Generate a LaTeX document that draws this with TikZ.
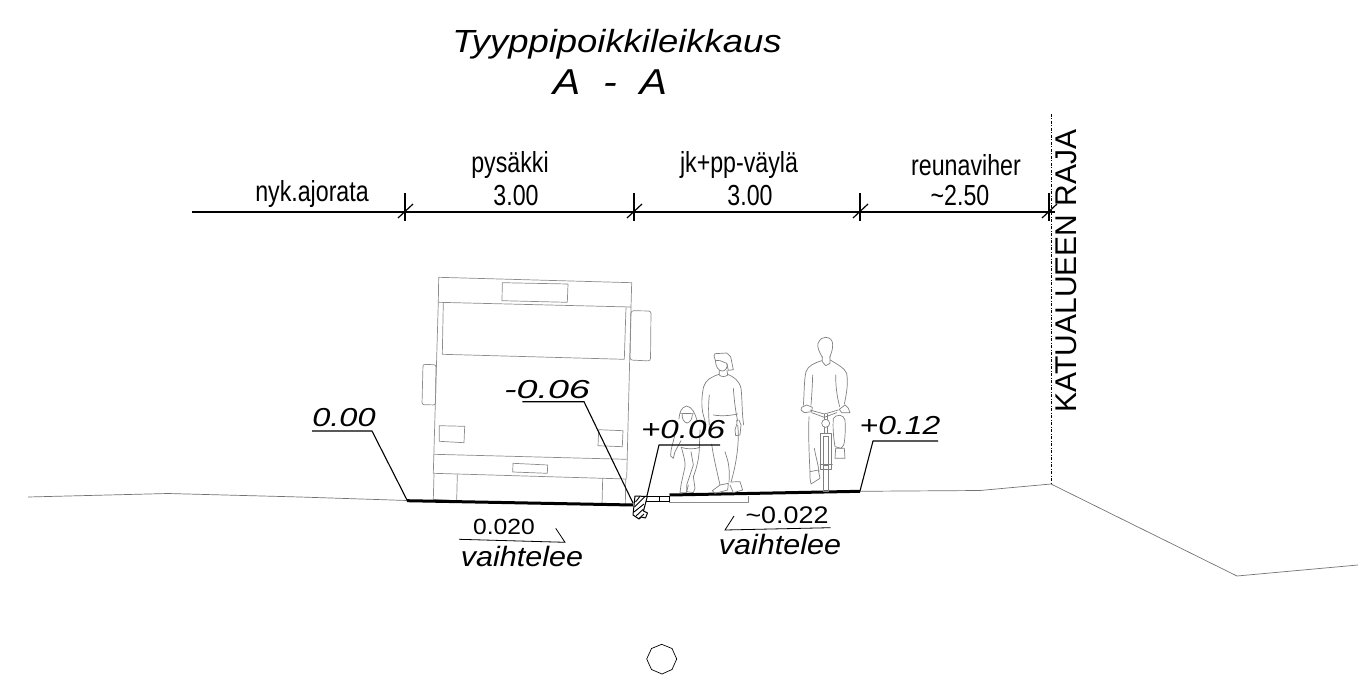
\documentclass[tikz,border=0pt]{standalone}
\usepackage{fontspec}
\setmainfont{Liberation Sans}
\tikzset{
  thin line/.style={draw=black!45,line width=.7pt,line join=round},
  fig/.style={draw=black!50,line width=.7pt,line join=round,line cap=round},
  ground/.style={draw=black!55,line width=.7pt},
  road/.style={draw=black,line width=3pt},
  leader/.style={draw=black,line width=1.1pt},
  dim/.style={draw=black,line width=1.2pt},
  lab/.style={inner sep=0pt,transform shape,font=\fontsize{29}{29}\selectfont,xscale=.8},
  lev/.style={inner sep=0pt,transform shape,font=\fontsize{26}{26}\selectfont\itshape,xscale=1.25},
  slope/.style={inner sep=0pt,transform shape,xscale=1.12},
}
\begin{document}
\begin{tikzpicture}[x=1pt,y=-1pt]
\useasboundingbox (0,0) rectangle (1358,698);
% titles
\node[lev,font=\fontsize{32}{32}\selectfont\itshape,xscale=.911] (t1) at (617,44) {Tyyppipoikkileikkaus};
\node[lev,font=\fontsize{36}{36}\selectfont\itshape,xscale=.915] (t2) at (610,82) {A\ \ -\ \ A};
% dimension line
\coordinate (d0) at (192,212); \coordinate (d1) at (405,212); \coordinate (d2) at (634,212);
\coordinate (d3) at (860,212); \coordinate (d4) at (1049,212); \coordinate (d5) at (1055,212);
\draw[dim] (d0) -- (d5);
\foreach \c in {d1,d2,d3,d4}{
  \draw[dim] ([yshift=19pt]\c) -- ([yshift=-9pt]\c);
  \draw[dim] ([shift={(-7pt,-6pt)}]\c) -- ([shift={(8pt,8pt)}]\c);
}
\node[lab] (a0) at (312,194) {nyk.ajorata};
\node[lab] (a1) at (510,165) {pysäkki};
\node[lab] (a2) at (516,196) {3.00};
\node[lab] (a3) at (739,165) {jk+pp-väylä};
\node[lab] (a4) at (750,196) {3.00};
\node[lab] (a5) at (966,165) {reunaviher};
\node[lab] (a6) at (960,196) {\textasciitilde 2.50};
% boundary
\coordinate (b0) at (1051,114); \coordinate (b1) at (1051,484);
\draw[draw=black,line width=.7pt,dash pattern=on 3pt off 1.5pt on 1pt off 1.5pt] (b0) -- (b1);
\node[inner sep=0pt,rotate=90,font=\fontsize{30}{30}\selectfont] (kr) at (1066,271) {KATUALUEEN RAJA};
% bus
\draw[thin line] (438.7,277.3) -- (631.7,282.7) -- (631,307) -- (438.3,302.3) -- cycle;
\draw[thin line] (502.3,282.7) -- (568,284) -- (567.3,302.3) -- (502,300.7) -- cycle;
\draw[thin line] (443.3,302.7) -- (442.3,354.3) -- (624.3,359.3) -- (626,307);
\draw[thin line] (438.3,302.3) -- (433.3,473.3);
\draw[thin line] (631,307) -- (626.7,478.3);
\draw[thin line] (434,454.3) -- (626.7,459.3);
\draw[thin line] (433.3,473.3) -- (626.7,479);
\draw[thin line] (513,463.3) -- (547.7,465) -- (547.3,473.3) -- (512.7,472) -- cycle;
\draw[thin line] (439.3,425.7) -- (464.7,426.3) -- (464,442.7) -- (439.3,441.3) -- cycle;
\draw[thin line] (598.7,429.7) -- (623,430.7) -- (622.3,446.7) -- (598,445.7) -- cycle;
\draw[thin line] (434,474) -- (433.3,499.3) -- (456.7,500.7) -- (457.3,474.7);
\draw[thin line] (602.7,478.3) -- (602,505) -- (625.3,505.7) -- (625.7,479);
\draw[thin line,rounded corners=2pt] (423,364.3) -- (436,364.8) -- (435.5,405) -- (422,404.6) -- cycle;
\draw[thin line,rounded corners=2.5pt] (631,310.7) -- (651,311) -- (650.5,361) -- (630,360) -- cycle;
% ground
\draw[ground] (28,497) -- (168,493.5) -- (300,497) -- (407,500.5);
\draw[ground] (860,491.3) -- (980,490.5) -- (1051,484) -- (1237,576) -- (1358,565);
\draw[road] (407,500.7) -- (633,505);
\draw[road] (669.5,495) -- (860,491.3);
\draw[thin line] (669.3,502.3) -- (748.3,502.3) -- (748.3,495.5);
% curb
\draw[draw=black,line width=1pt,line join=round] (635,496) -- (647.3,496.5) -- (643.5,511) -- (647.5,513) -- (645.5,518) -- (641.5,517) -- (639,519) -- (633,515) -- cycle;
\foreach \a/\b/\c/\d in {635.5/502/640/496.3,634.5/507/645/496.5,634/512/644/504,636/516/643.5/509,639/518.5/644/514}
  \draw[black,line width=.9pt] (\a,\b) -- (\c,\d);
\draw[draw=black,line width=.9pt] (647.3,496) -- (669.3,496) -- (669.3,501.7) -- (645.8,501.7);
\draw[draw=black,line width=.9pt] (659.3,496) -- (659.3,501.7);
% adult upper
\begin{scope}[shift={(665,345)},x=.3333pt,y=-.3333pt]
\draw[fig] (147,33) -- (150,26) -- (185,24) -- (197,35) -- (205,74) -- (190,76) -- (185,55) -- (165,47) -- (151,46) -- cycle;
\draw[fig] (151,46) .. controls (152,65) and (160,78) .. (172,78) .. controls (182,78) and (187,68) .. (187,58);
\draw[fig] (163,76) -- (163,90) .. controls (168,96) and (182,96) .. (188,90) -- (186,76);
\draw[fig] (162,88) .. controls (140,95) and (122,105) .. (116,125) .. controls (110,150) and (108,185) .. (115,210) -- (123,240);
\draw[fig] (188,88) .. controls (205,95) and (222,105) .. (228,130) .. controls (232,160) and (230,200) .. (236,240);
\draw[fig] (133,150) .. controls (130,175) and (130,205) .. (133,240);
\draw[fig] (205,130) .. controls (208,165) and (210,190) .. (218,228);
\draw[fig] (145,210) .. controls (170,214) and (195,212) .. (218,207);
% child head
\draw[fig] (42,222) .. controls (44,200) and (48,188) .. (65,183) .. controls (82,186) and (90,205) .. (96,226);
\draw[fig] (46,205) -- (85,206);
\draw[fig] (52,206) .. controls (50,220) and (56,232) .. (66,234) .. controls (76,232) and (82,222) .. (82,207);
\end{scope}
% adult and child lower
\begin{scope}[shift={(665,420)},x=.3333pt,y=-.3333pt]
\draw[fig] (222,0) -- (228,15) -- (225,45) -- (212,47) -- (210,30) -- (216,10) -- (215,0);
\draw[fig] (140,72) .. controls (145,110) and (155,150) .. (165,195);
\draw[fig] (218,15) .. controls (224,60) and (215,130) .. (198,186);
\draw[fig] (180,95) .. controls (185,115) and (196,130) .. (192,187);
\draw[fig] (165,195) -- (190,190) -- (188,210) -- (150,220) -- (142,212) -- cycle;
\draw[fig] (198,186) -- (225,185) -- (233,210) -- (205,218) -- (195,195);
\draw[fig] (35,10) .. controls (32,45) and (22,70) .. (18,92) -- (17,108) -- (25,115) -- (30,95) -- (48,62);
\draw[fig] (48,82) .. controls (65,88) and (90,88) .. (105,82);
\draw[fig] (105,30) -- (103,85) .. controls (102,115) and (95,145) .. (85,170);
\draw[fig] (50,85) .. controls (55,105) and (62,125) .. (60,140) -- (48,195) -- (45,218) -- (65,218) -- (65,195) -- (85,135) -- (78,95);
\draw[fig] (70,195) -- (65,215) -- (85,218) -- (90,205) -- (85,170);
\end{scope}
% cyclist upper
\begin{scope}[shift={(795,330)},x=.3333pt,y=-.3333pt]
\draw[fig] (82,82) .. controls (72,65) and (66,50) .. (69,40) .. controls (75,25) and (85,22) .. (92,22) .. controls (105,22) and (114,32) .. (113,45) .. controls (113,60) and (108,72) .. (104,82);
\draw[fig] (82,80) -- (82,95) -- (92,107) -- (105,100) -- (105,80);
\draw[fig] (80,92) .. controls (60,98) and (38,108) .. (33,125) .. controls (27,150) and (28,190) .. (25,226);
\draw[fig] (106,90) .. controls (125,102) and (150,115) .. (155,130) .. controls (160,160) and (155,190) .. (148,222);
\draw[fig] (53,135) .. controls (52,170) and (50,200) .. (48,226);
\draw[fig] (122,135) .. controls (122,170) and (126,200) .. (134,230);
\draw[fig] (20,232) -- (35,225) -- (52,232) -- (50,245) -- (28,248) -- (18,240) -- cycle;
\draw[fig] (133,238) -- (150,225) -- (160,235) -- (165,248) -- (140,248) -- cycle;
\end{scope}
% cyclist lower
\begin{scope}[shift={(795,410)},x=.3333pt,y=-.3333pt]
\draw[fig] (45,0) -- (88,12) -- (130,0);
\draw[fig] (50,8) -- (88,22) -- (125,8);
\draw[fig] (88,12) -- (88,28); \draw[fig] (97,12) -- (97,28);
\draw[fig] (92,40) circle[radius=4pt];
\draw[fig] (88,52) -- (88,70); \draw[fig] (97,52) -- (97,70);
\draw[fig] (75,70) -- (108,70) -- (108,178) -- (75,178) -- cycle;
\draw[fig] (85,80) -- (100,80) -- (100,165) -- (85,165) -- cycle;
\draw[fig] (85,165) -- (85,245) -- (100,245) -- (100,165);
\draw[fig] (75,162) -- (112,162);
\draw[fig] (42,20) .. controls (40,70) and (42,130) .. (45,185);
\draw[fig] (58,115) .. controls (62,140) and (70,165) .. (72,185);
\draw[fig] (45,185) -- (70,180) -- (75,205) -- (48,222) -- (45,205) -- cycle;
\draw[fig] (115,25) .. controls (125,12) and (145,12) .. (150,30) .. controls (152,60) and (150,90) .. (146,105) -- (138,115) -- (120,110) .. controls (115,80) and (113,50) .. (115,25) -- cycle;
\draw[fig] (122,115) -- (148,115) -- (150,145) -- (120,145) -- cycle;
\end{scope}
% level labels and leaders
\node[lev] (l1) at (344,418) {0.00};
\coordinate (u1a) at (312,431); \coordinate (u1b) at (372,431); \coordinate (e1) at (407,500);
\draw[leader] (u1a) -- (u1b) -- (e1);
\node[lev,xscale=1.16] (l2) at (547,390) {-0.06};
\coordinate (u2a) at (522.3,401.7); \coordinate (u2b) at (584,401.7); \coordinate (e2) at (633,503);
\draw[leader] (u2a) -- (u2b) -- (e2);
\node[lev,xscale=1.02] (l3) at (683,430) {+0.06};
\coordinate (u3a) at (720,445); \coordinate (u3b) at (659,445); \coordinate (e3) at (646.7,497);
\draw[leader] (u3a) -- (u3b) -- (e3);
\node[lev,xscale=.98] (l4) at (900,426) {+0.12};
\coordinate (u4a) at (938,441); \coordinate (u4b) at (873,441); \coordinate (e4) at (860,491);
\draw[leader] (u4a) -- (u4b) -- (e4);
% slopes
\node[slope,font=\fontsize{22}{22}\selectfont] (s1) at (504,527) {0.020};
\node[lev,font=\fontsize{28}{28}\selectfont\itshape,xscale=.871] (v1) at (522,556) {vaihtelee};
\coordinate (p1) at (459,539.3); \coordinate (p2) at (565,542.3); \coordinate (p3) at (555.7,528.3);
\draw[black,line width=.8pt] (p1) -- (p2) -- (p3);
\node[slope,font=\fontsize{24}{24}\selectfont] (s2) at (787,515) {\textasciitilde 0.022};
\node[lev,font=\fontsize{28}{28}\selectfont\itshape,xscale=.871] (v2) at (780,544) {vaihtelee};
\coordinate (q1) at (734,516); \coordinate (q2) at (725,530); \coordinate (q3) at (830.7,527.7);
\draw[black,line width=.8pt] (q1) -- (q2) -- (q3);
% polygon
\draw[black,line width=.7pt] (661.7,644.3) -- (672,648.5) -- (676.7,659) -- (672,669.5) -- (662,674) -- (651.5,669.5) -- (646.7,659) -- (651.5,648.5) -- cycle;
\end{tikzpicture}
\end{document}
